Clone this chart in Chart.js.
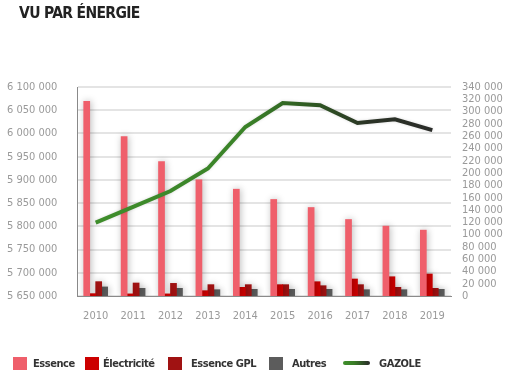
<!DOCTYPE html>
<html>
<head>
<meta charset="utf-8">
<script src="https://cdn.jsdelivr.net/npm/chart.js@4/dist/chart.umd.min.js"></script>
<style>
  html, body { margin:0; padding:0; background:#fff; }
  #wrap { position:relative; width:520px; height:382px; overflow:hidden; }
  canvas { position:absolute; left:0; top:0; }
  .t { position:absolute; font-family:"DejaVu Sans Condensed",sans-serif; font-weight:bold; color:#222; white-space:nowrap; }
  #title { left:19px; top:5px; font-size:15.5px; line-height:17px; letter-spacing:-0.65px; }
  .sw { position:absolute; width:14px; height:13px; top:357px; }
  .lt { top:357px; font-size:11px; line-height:14px; color:#333; letter-spacing:-0.45px; }
  #gl { position:absolute; left:343px; top:361px; width:27px; height:4px; border-radius:2px;
        background:linear-gradient(90deg,#3f8f2b 0%,#3a7f27 40%,#2a2a2a 100%); }
</style>
</head>
<body>
<div id="wrap">
  <canvas id="c" width="520" height="382"></canvas>
  <div id="title" class="t">VU PAR ÉNERGIE</div>
  <div class="sw" style="left:13px;background:#ef5f6b"></div><div class="t lt" style="left:33px">Essence</div>
  <div class="sw" style="left:85px;background:#cc0000"></div><div class="t lt" style="left:103px">Électricité</div>
  <div class="sw" style="left:168px;background:#a01212"></div><div class="t lt" style="left:191px">Essence GPL</div>
  <div class="sw" style="left:269px;background:#5c5c5c"></div><div class="t lt" style="left:292px">Autres</div>
  <div id="gl"></div><div class="t lt" style="left:379px">GAZOLE</div>
</div>
<script>
const years = ['2010','2011','2012','2013','2014','2015','2016','2017','2018','2019'];
const essence = [317300, 259900, 219300, 189600, 174300, 157600, 144500, 125000, 114200, 107700];
const electricite = [4400, 4000, 4000, 9200, 14600, 19000, 23800, 28200, 31900, 36300];
const essenceGPL = [23900, 21700, 21100, 19000, 19000, 19000, 17300, 19000, 14600, 13000];
const autres = [15300, 13000, 13000, 10800, 11400, 11400, 11400, 10800, 10800, 11400];
const gazole = [5808000, 5842000, 5876000, 5924500, 6014000, 6065600, 6060600, 6022600, 6030500, 6007000];

const fmt = v => String(v).replace(/\B(?=(\d{3})+(?!\d))/g, ' ');
const FONT = '"DejaVu Sans Condensed",sans-serif';

const shadowPlugin = {
  id: 'shadow',
  beforeDatasetDraw(chart, args) {
    const ctx = chart.ctx;
    ctx.save();
    if (args.meta.type === 'bar') {
      ctx.shadowColor = 'rgba(0,0,0,0.28)';
      ctx.shadowBlur = 7;
      ctx.shadowOffsetX = 1;
      ctx.shadowOffsetY = 0;
    } else {
      ctx.shadowColor = 'rgba(0,0,0,0.15)';
      ctx.shadowBlur = 3;
    }
  },
  afterDatasetDraw(chart) { chart.ctx.restore(); }
};

function lineGrad(context) {
  const ch = context.chart;
  const a = ch.chartArea;
  if (!a) return '#3f8f2b';
  const g = ch.ctx.createLinearGradient(a.left, 0, a.right, 0);
  g.addColorStop(0, '#3f8f2b');
  g.addColorStop(0.45, '#3a8228');
  g.addColorStop(0.62, '#2f5a22');
  g.addColorStop(0.78, '#2b3326');
  g.addColorStop(1, '#2a2a2a');
  return g;
}

new Chart(document.getElementById('c'), {
  data: {
    labels: years,
    datasets: [
      { type:'line', label:'GAZOLE', data:gazole, yAxisID:'yL', borderColor:lineGrad, borderWidth:4,
        pointRadius:0, tension:0, fill:false, order:0 },
      { type:'bar', label:'Essence', data:essence, yAxisID:'yR', backgroundColor:'#ef5f6b', order:1 },
      { type:'bar', label:'Électricité', data:electricite, yAxisID:'yR', backgroundColor:'#cc0000', order:1 },
      { type:'bar', label:'Essence GPL', data:essenceGPL, yAxisID:'yR', backgroundColor:'#a01212', order:1 },
      { type:'bar', label:'Autres', data:autres, yAxisID:'yR', backgroundColor:'#5c5c5c', order:1 }
    ]
  },
  plugins: [shadowPlugin],
  options: {
    responsive:false, animation:false, devicePixelRatio:1,
    datasets: { bar: { categoryPercentage:0.64, barPercentage:1.12 } },
    layout: { padding: { left:7, right:0, top:87, bottom:0 } },
    plugins: { legend:{ display:false }, tooltip:{ enabled:false } },
    scales: {
      x: {
        grid: { display:false, drawTicks:false },
        border: { display:true, color:'#8a8a8a', width:1 },
        ticks: { color:'#9a9a9a', font:{ family:FONT, size:11 }, padding:14, maxRotation:0 },
        afterFit(s) { s.height = 86; }
      },
      yL: {
        position:'left', min:5650000, max:6100000,
        ticks: { stepSize:50000, color:'#9a9a9a', font:{ family:FONT, size:11 }, crossAlign:'far',
                 autoSkip:false, callback: v => fmt(v) },
        grid: { color:'#e4e4e4', lineWidth:2, drawTicks:false },
        border: { display:true, color:'#8a8a8a', width:1 },
        afterFit(s) { s.width = 70; }
      },
      yR: {
        position:'right', min:0, max:340000,
        ticks: { stepSize:20000, color:'#9a9a9a', font:{ family:FONT, size:11 }, padding:11,
                 autoSkip:false, callback: v => fmt(v) },
        grid: { display:false, drawOnChartArea:false, drawTicks:false },
        border: { display:false },
        afterFit(s) { s.width = 69; }
      }
    }
  }
});
</script>
</body>
</html>
